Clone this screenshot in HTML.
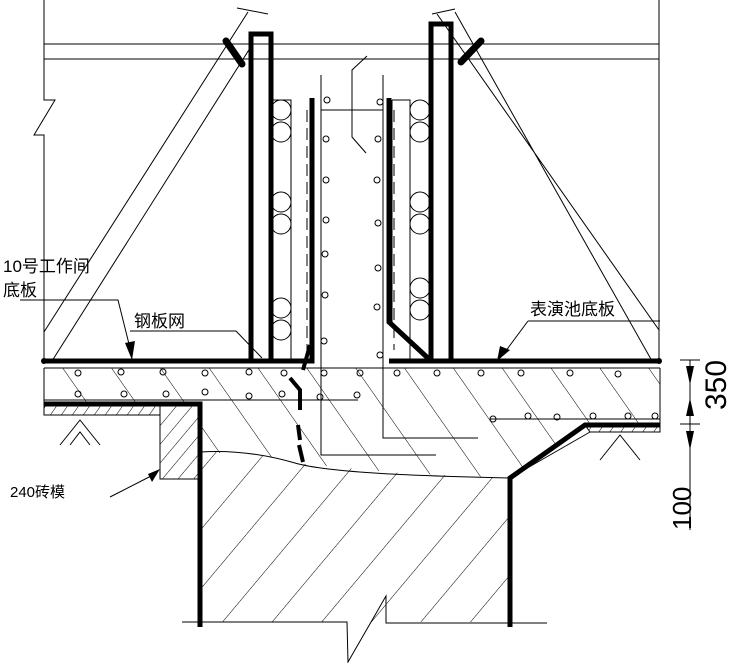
<!DOCTYPE html>
<html><head><meta charset="utf-8"><style>body{margin:0;background:#fff}svg{display:block}text{font-family:"Liberation Sans","Noto Sans CJK SC",sans-serif;fill:#000}</style></head><body>
<svg width="731" height="663" viewBox="0 0 731 663" xmlns="http://www.w3.org/2000/svg">
<defs>
<pattern id="h1" patternUnits="userSpaceOnUse" width="40" height="40" patternTransform="rotate(-35)"><line x1="0" y1="0" x2="0" y2="40" stroke="#000" stroke-width="1"/></pattern>
<pattern id="h2" patternUnits="userSpaceOnUse" width="38" height="38" patternTransform="rotate(40)"><line x1="0" y1="0" x2="0" y2="38" stroke="#000" stroke-width="1"/></pattern>
<pattern id="h3" patternUnits="userSpaceOnUse" width="9" height="9" patternTransform="rotate(35)"><line x1="0" y1="0" x2="0" y2="9" stroke="#000" stroke-width="1"/></pattern>
<pattern id="h4" patternUnits="userSpaceOnUse" width="12" height="12" patternTransform="rotate(40)"><line x1="0" y1="0" x2="0" y2="12" stroke="#000" stroke-width="1"/></pattern>
</defs>
<g fill="none" stroke="#000" stroke-width="1">
<path d="M44 0V100H55L34 135H44V361"/>
<path d="M659 0V361"/>
<path d="M44 44H659M44 59H659"/>
<path d="M44 332L248 12M52 361L252 45M237 8L268 14"/>
<path d="M437 14L659 330M455 12L652 361M432 14L455 9"/>
<path d="M44 368H660M44 400H358M490 419H660M44 368V415M660 368V432"/>
<path d="M321 75V455H436M383 75V438H478M321 110H383M367 56L352 70V137L366 153"/>
<path d="M272 100H291V361M272 100V361M392 100H410V361M392 100V322"/>
</g>
<polygon points="44,368 660,368 660,425 585,425 510,478 400,473 295,463 260,455 200,452 200,404 44,404" fill="url(#h1)"/>
<polygon points="200,452 225,452 260,455 295,463 400,473 510,478 510,622 200,622" fill="url(#h2)"/>
<rect x="44" y="404" width="116" height="11" fill="url(#h3)" stroke="#000"/>
<rect x="160" y="404" width="40" height="75" fill="url(#h4)" stroke="#000"/>
<polygon points="585,425 660,425 660,432 590,432" fill="url(#h3)" stroke="#000"/>
<g fill="none" stroke="#000" stroke-width="1">
<path d="M200 452C230 450 260 453 295 463S420 476 510 478"/>
<path d="M182 622H347L348 662L386 596V623H547"/>
<path d="M60 445L80 420L100 445M70 445L80 432L90 445M600 460L620 435L640 460"/>
<path d="M510 478L590 432"/>
</g>
<g fill="none" stroke="#000" stroke-width="5">
<rect x="251" y="34" width="20" height="327"/>
<rect x="431" y="24" width="20" height="337"/>
<path d="M44 361H312V340M389 361H659M312 98V361M389 98V322L430 360"/>
<path d="M44 404H200V627M660 425H585L510 478V627"/>
<path stroke-width="7" stroke-linecap="round" d="M226 41L242 64M461 62L481 41"/>
<path stroke-width="4" d="M310 345L303 370M290 378L300 390L300 410M298 425L300 440M299 445L303 462"/>
</g>
<circle cx="44" cy="361" r="3"/><circle cx="659" cy="361" r="3"/>
<g fill="none" stroke="#000" stroke-width="1">
<path d="M307 110V350M394 110V350" stroke-dasharray="12 6"/>
<g>
<circle cx="281" cy="110" r="10"/><circle cx="281" cy="132" r="10"/><circle cx="281" cy="202" r="10"/><circle cx="281" cy="224" r="10"/><circle cx="281" cy="308" r="10"/><circle cx="281" cy="330" r="10"/>
<circle cx="420" cy="110" r="10"/><circle cx="420" cy="132" r="10"/><circle cx="420" cy="202" r="10"/><circle cx="420" cy="224" r="10"/><circle cx="420" cy="288" r="10"/><circle cx="420" cy="310" r="10"/>
</g>
<g>
<circle cx="327" cy="100" r="3"/><circle cx="326" cy="139" r="3"/><circle cx="326" cy="180" r="3"/><circle cx="326" cy="220" r="3"/><circle cx="325" cy="254" r="3"/><circle cx="325" cy="295" r="3"/><circle cx="324" cy="341" r="3"/>
<circle cx="380" cy="102" r="3"/><circle cx="378" cy="139" r="3"/><circle cx="377" cy="180" r="3"/><circle cx="378" cy="223" r="3"/><circle cx="378" cy="268" r="3"/><circle cx="377" cy="307" r="3"/><circle cx="380" cy="355" r="3"/>
<circle cx="78" cy="373" r="3"/><circle cx="121" cy="372" r="3"/><circle cx="163" cy="372" r="3"/><circle cx="205" cy="373" r="3"/><circle cx="249" cy="372" r="3"/><circle cx="284" cy="373" r="3"/><circle cx="324" cy="373" r="3"/><circle cx="360" cy="373" r="3"/><circle cx="397" cy="373" r="3"/><circle cx="437" cy="373" r="3"/><circle cx="481" cy="373" r="3"/><circle cx="521" cy="373" r="3"/><circle cx="570" cy="373" r="3"/><circle cx="618" cy="374" r="3"/>
<circle cx="78" cy="394" r="3"/><circle cx="124" cy="394" r="3"/><circle cx="166" cy="394" r="3"/><circle cx="205" cy="392" r="3"/><circle cx="249" cy="396" r="3"/><circle cx="282" cy="394" r="3"/><circle cx="320" cy="397" r="3"/><circle cx="357" cy="395" r="3"/>
<circle cx="493" cy="419" r="3"/><circle cx="528" cy="416" r="3"/><circle cx="557" cy="417" r="3"/><circle cx="593" cy="416" r="3"/><circle cx="628" cy="416" r="3"/><circle cx="655" cy="416" r="3"/>
</g>
</g>
<g stroke="#000" fill="none" stroke-width="1">
<path d="M690 360V530M680 360H700M680 424H700"/>
<path d="M20 300H118L131 352M130 331H236L262 358M528 321H660M528 321L505 352M110 497L155 474"/>
</g>
<g fill="#000">
<polygon points="686,366 694,366 690,385"/><polygon points="686,416 694,416 690,398"/><polygon points="686,431 694,431 690,450"/>
<polygon points="125,343 135,341 132,360"/><polygon points="500,346 510,350 497,361"/><polygon points="148,474 160,469 152,482"/>
</g>
<text x="3" y="272" font-size="17">10号工作间</text>
<text x="3" y="296" font-size="17">底板</text>
<text x="134" y="327" font-size="17">钢板网</text>
<text x="530" y="315" font-size="17">表演池底板</text>
<text x="10" y="497" font-size="15">240砖模</text>
<text transform="translate(726,410) rotate(-90)" font-size="30">350</text>
<text transform="translate(691,530) rotate(-90)" font-size="26">100</text>
</svg>
</body></html>
